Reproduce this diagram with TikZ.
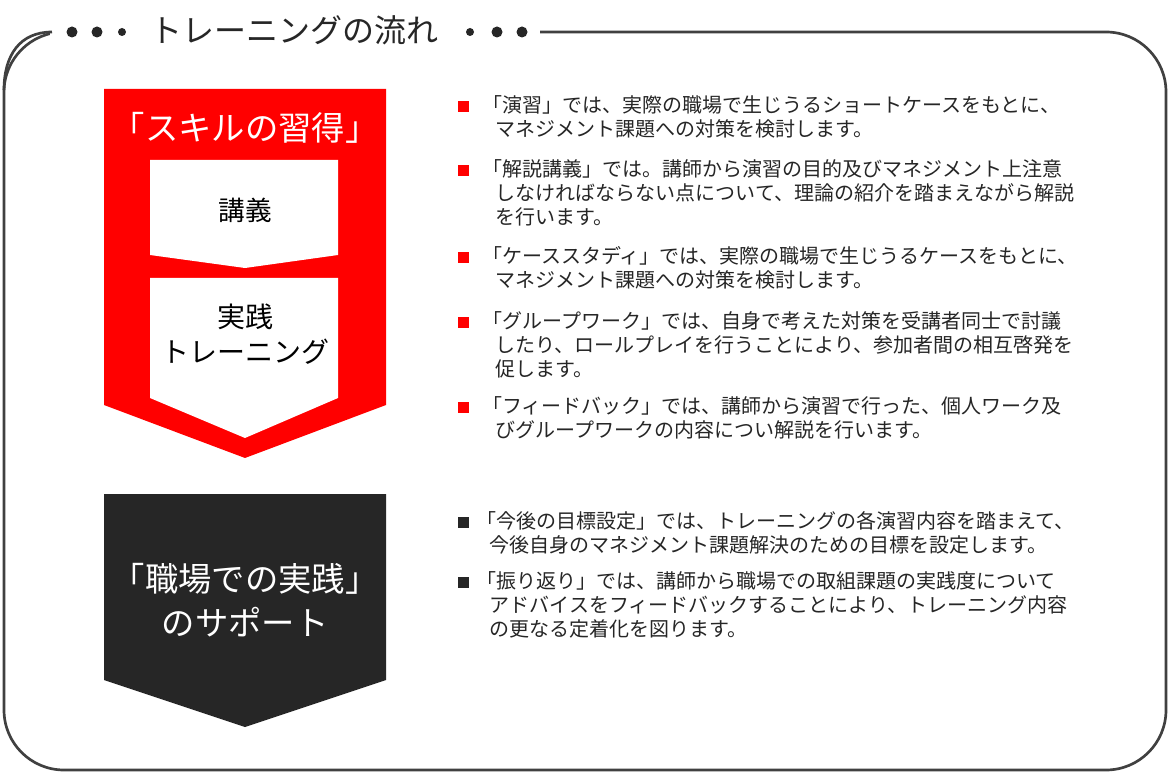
\documentclass[tikz,border=0pt]{standalone}
\usepackage{fontspec}
\setmainfont{Noto Sans CJK JP}
\begin{document}
\begin{tikzpicture}[x=0.75pt,y=-0.75pt,
  bt/.style={anchor=north west,align=left,inner sep=0pt,font=\fontsize{15}{18}\selectfont,text=black!85},
  rb/.style={fill=red,draw=none},
  db/.style={fill=black!85,draw=none}]
\useasboundingbox[fill=white] (0,0) rectangle (1171,773);
\draw[line width=2pt,black!75,rounded corners=45pt] (4,32) rectangle (1166,770);
\fill[white] (50,15) rectangle (540,50);
\draw[line width=2pt,black!75] (4,90) .. controls (4,55) and (20,32) .. (52,32);
\foreach \x/\r in {72/5.5,97/5.5,122/4,470/4,497/5.5,522/5.5} \fill[black!85] (\x,32) circle (\r);
\node[font=\fontsize{24}{24}\selectfont,text=black!85] (title) at (294,30) {トレーニングの流れ};
% red chevron
\fill[red] (104,89) -- (386,89) -- (386,405) -- (245,458) -- (104,405) -- cycle;
\node[text=white,font=\fontsize{25}{25}\selectfont] (skill) at (245,128) {「スキルの習得」};
\fill[white] (150,160) -- (338,160) -- (338,255) -- (245,268) -- (150,255) -- cycle;
\node[font=\fontsize{20}{20}\selectfont] (kogi) at (245,210) {講義};
\fill[white] (150,278) -- (338,278) -- (338,398) -- (245,438) -- (150,398) -- cycle;
\node[font=\fontsize{21}{26}\selectfont,align=center] (jissen) at (245,334) {実践\\トレーニング};
% dark chevron
\fill[black!85] (104,494) -- (386,494) -- (386,680) -- (245,727) -- (104,680) -- cycle;
\node[text=white,font=\fontsize{25}{33}\selectfont,align=center] (support) at (245,600) {「職場での実践」\\のサポート};
% bullets
\foreach \y in {106,170,257,322,407} \fill[red] (458,\y-5) rectangle (469,\y+6);
\foreach \y in {522,582} \fill[black!85] (458,\y-5) rectangle (469,\y+6);
\node[bt] (b1) at (482,95) {「演習」では、実際の職場で生じうるショートケースをもとに、\\\hspace*{10pt}マネジメント課題への対策を検討します。};
\node[bt] (b2) at (482,159) {「解説講義」では。講師から演習の目的及びマネジメント上注意\\\hspace*{10pt}しなければならない点について、理論の紹介を踏まえながら解説\\\hspace*{10pt}を行います。};
\node[bt] (b3) at (482,246) {「ケーススタディ」では、実際の職場で生じうるケースをもとに、\\\hspace*{10pt}マネジメント課題への対策を検討します。};
\node[bt] (b4) at (482,311) {「グループワーク」では、自身で考えた対策を受講者同士で討議\\\hspace*{10pt}したり、ロールプレイを行うことにより、参加者間の相互啓発を\\\hspace*{10pt}促します。};
\node[bt] (b5) at (482,396) {「フィードバック」では、講師から演習で行った、個人ワーク及\\\hspace*{10pt}びグループワークの内容につい解説を行います。};
\node[bt] (b6) at (476,511) {「今後の目標設定」では、トレーニングの各演習内容を踏まえて、\\\hspace*{10pt}今後自身のマネジメント課題解決のための目標を設定します。};
\node[bt] (b7) at (476,571) {「振り返り」では、講師から職場での取組課題の実践度について\\\hspace*{10pt}アドバイスをフィードバックすることにより、トレーニング内容\\\hspace*{10pt}の更なる定着化を図ります。};
\end{tikzpicture}
\end{document}
